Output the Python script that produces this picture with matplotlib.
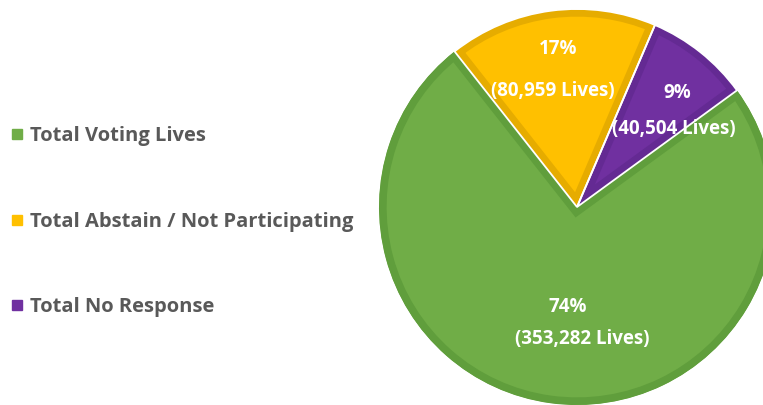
import matplotlib.pyplot as plt
from matplotlib.lines import Line2D
from matplotlib.patches import PathPatch

# data
categories = ['Total Voting Lives', 'Total Abstain / Not Participating', 'Total No Response']
lives = [353282, 80959, 40504]
fill_colors = ['#70AD47', '#FFC000', '#7030A0']
edge_colors = ['#609E3C', '#E6AC00', '#642A93']

W, H = 763, 405
fig = plt.figure(figsize=(W / 100, H / 100), dpi=100)
ax = fig.add_axes([0, 0, 1, 1])

cx, cy, rad = 577, H - 207, 198
wedges, _ = ax.pie(lives, colors=fill_colors, startangle=36.1, counterclock=False,
                   center=(cx, cy), radius=rad, wedgeprops=dict(linewidth=0))
ax.set_xlim(0, W)
ax.set_ylim(0, H)
ax.set_aspect('equal')
ax.axis('off')

# darker inner border: thick edge clipped to the wedge itself
for w, ec in zip(wedges, edge_colors):
    w.set_edgecolor(ec)
    w.set_linewidth(11)
    w.set_clip_on(True)
    w.set_clip_path(w)
# thin white outline on the small slices
for w in wedges[1:]:
    ax.add_patch(PathPatch(w.get_path(), fill=False, edgecolor='white',
                           linewidth=1.3, transform=w.get_transform(), clip_on=False))

total = sum(lives)
pcts = [round(v / total * 100) for v in lives]

# label placements (pixel coords from top-left)
label_pos = [((568, 307), (582, 339)), ((558, 49), (553, 91)), ((677, 93), (674, 129))]
font = ['Open Sans', 'DejaVu Sans']
for (p1, p2), pct, v in zip(label_pos, pcts, lives):
    ax.text(p1[0], H - p1[1], f'{pct}%', color='white', fontsize=13.5, fontweight='bold',
            ha='center', va='center', family=font)
    ax.text(p2[0], H - p2[1], f'({v:,} Lives)', color='white', fontsize=13.5, fontweight='bold',
            ha='center', va='center', family=font)

handles = [Line2D([], [], marker='s', linestyle='none', markersize=7.5,
                  markerfacecolor=c, markeredgecolor=c) for c in fill_colors]
leg = fig.legend(handles, categories, loc='center left', bbox_to_anchor=(-0.008, 0.452),
                 frameon=False, handlelength=0.5, handletextpad=0.4, labelspacing=3.25,
                 prop=dict(family=font, size=14.5, weight='bold'))
for t in leg.get_texts():
    t.set_color('#595959')

fig.savefig('out.png', dpi=100)
